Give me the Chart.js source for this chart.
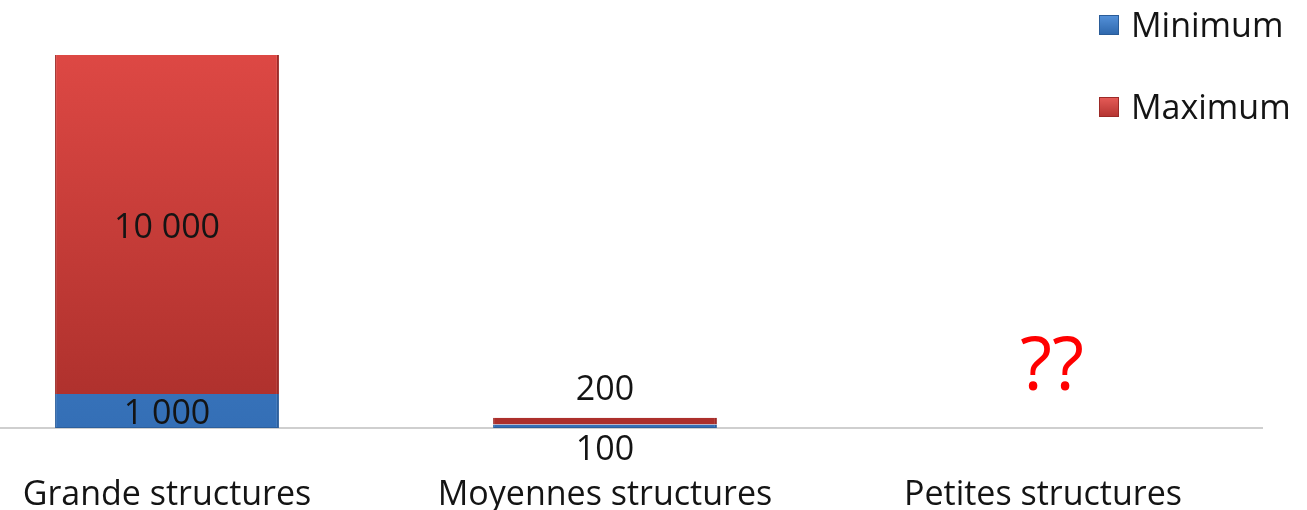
<!DOCTYPE html>
<html>
<head>
<meta charset="utf-8">
<script src="https://cdn.jsdelivr.net/npm/chart.js@4/dist/chart.umd.min.js"></script>
<style>
  html, body { margin: 0; padding: 0; background: #fff; overflow: hidden; }
  #wrap { position: absolute; left: -55px; top: 0; width: 1362px; height: 510px; }
</style>
</head>
<body>
<div id="wrap"><canvas id="c" width="1362" height="510"></canvas></div>
<script>
const categories = ['Grande structures', 'Moyennes structures', 'Petites structures'];
const minimumValues = [1000, 100, null];
const maximumValues = [10000, 200, null];
const seriesNames = ['Minimum', 'Maximum'];
const categoryNotes = ['', '', '??'];

const FONT = '"Open Sans", "DejaVu Sans", sans-serif';
const TEXT = '#141414';

function fmt(v) {
  return String(v).replace(/\B(?=(\d{3})+(?!\d))/g, ' ');
}

function vGradient(ctx, top, bottom) {
  const chart = ctx.chart;
  const area = chart.chartArea;
  if (!area) return top;
  const g = chart.ctx.createLinearGradient(0, area.top, 0, area.bottom);
  g.addColorStop(0, top);
  g.addColorStop(1, bottom);
  return g;
}

// value labels: centred inside tall segments, outside for thin ones
const valueLabels = {
  id: 'valueLabels',
  afterDatasetsDraw(chart) {
    const ctx = chart.ctx;
    ctx.save();
    ctx.font = '34px ' + FONT;
    ctx.fillStyle = TEXT;
    ctx.textAlign = 'center';
    ctx.textBaseline = 'alphabetic';
    chart.data.datasets.forEach((ds, di) => {
      const meta = chart.getDatasetMeta(di);
      meta.data.forEach((bar, i) => {
        const v = ds.data[i];
        if (v == null) return;
        const h = Math.abs(bar.base - bar.y);
        let y;
        if (h > 30) {
          y = (bar.y + bar.base) / 2 + 13;
        } else if (di === 0) {
          y = bar.base + 32;
        } else {
          y = bar.y - 18;
        }
        ctx.fillText(fmt(v), bar.x, y);
      });
    });
    ctx.restore();
  }
};

// free-standing notes over categories
const notes = {
  id: 'notes',
  afterDatasetsDraw(chart) {
    const ctx = chart.ctx;
    const xs = chart.scales.x;
    const ys = chart.scales.y;
    ctx.save();
    ctx.font = '74px ' + FONT;
    ctx.fillStyle = '#ff0000';
    ctx.textAlign = 'center';
    ctx.textBaseline = 'alphabetic';
    categoryNotes.forEach((t, i) => {
      if (!t) return;
      ctx.fillText(t, xs.getPixelForValue(i) + 9, ys.getPixelForValue(1120));
    });
    ctx.restore();
  }
};

// vertical legend in the top right corner
const sideLegend = {
  id: 'sideLegend',
  afterDraw(chart) {
    const ctx = chart.ctx;
    ctx.save();
    ctx.font = '34px ' + FONT;
    ctx.textBaseline = 'alphabetic';
    ctx.textAlign = 'left';
    const x0 = 1154;
    const rows = [25, 107];
    chart.data.datasets.forEach((ds, i) => {
      const y = rows[i];
      const c = ds.legendColors;
      const g = ctx.createLinearGradient(0, y - 10, 0, y + 10);
      g.addColorStop(0, c[0]);
      g.addColorStop(1, c[1]);
      ctx.fillStyle = g;
      ctx.fillRect(x0, y - 10, 20, 20);
      ctx.strokeStyle = c[2];
      ctx.lineWidth = 1;
      ctx.strokeRect(x0 + 0.5, y - 9.5, 19, 19);
      ctx.fillStyle = TEXT;
      ctx.fillText(ds.label, x0 + 32, y + 12);
    });
    ctx.restore();
  }
};

new Chart(document.getElementById('c'), {
  type: 'bar',
  data: {
    labels: categories,
    datasets: [
      {
        label: seriesNames[0],
        data: minimumValues,
        legendColors: ['#5592da', '#2d66ab', '#2a5c98'],
        backgroundColor: (ctx) => vGradient(ctx, '#4a88d2', '#346fb6'),
        borderColor: '#2c5f9c',
        borderWidth: { top: 0, left: 1, right: 2, bottom: 1 },
        borderSkipped: false
      },
      {
        label: seriesNames[1],
        data: maximumValues,
        legendColors: ['#e65c58', '#b33330', '#9c2a27'],
        backgroundColor: (ctx) => vGradient(ctx, '#dd4844', '#ab2f2b'),
        borderColor: '#9c2a27',
        borderWidth: { top: 0, left: 1, right: 2, bottom: 0 },
        borderSkipped: false
      }
    ]
  },
  options: {
    responsive: false,
    animation: false,
    layout: { padding: { left: 3, right: 45, top: 55, bottom: 0 } },
    plugins: { legend: { display: false }, tooltip: { enabled: false } },
    datasets: { bar: { categoryPercentage: 1, barPercentage: 0.511 } },
    scales: {
      x: {
        stacked: true,
        grid: { display: false },
        border: { display: true, color: '#cfcfcf', width: 2 },
        ticks: { color: TEXT, font: { family: FONT, size: 34 }, padding: 39, maxRotation: 0 },
        afterFit(scale) { scale.height = 82; }
      },
      y: {
        stacked: true,
        display: false,
        min: 0,
        max: 11000
      }
    }
  },
  plugins: [valueLabels, notes, sideLegend]
});
</script>
</body>
</html>
